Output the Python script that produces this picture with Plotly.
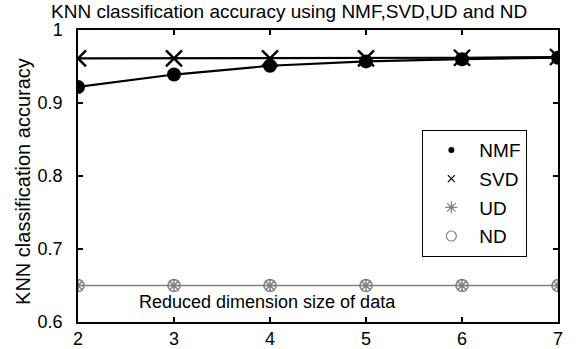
import plotly.graph_objects as go

dims = [2, 3, 4, 5, 6, 7]
nmf = [0.922, 0.939, 0.951, 0.957, 0.960, 0.962]
svd = [0.961, 0.961, 0.961, 0.961, 0.962, 0.963]
ud = [0.650, 0.650, 0.650, 0.650, 0.650, 0.650]
nd = [0.650, 0.650, 0.650, 0.650, 0.650, 0.650]
series_names = ["NMF", "SVD", "UD", "ND"]

FONT = "Liberation Sans"
gray = "#808080"
fig = go.Figure()
# lines
fig.add_trace(go.Scatter(x=dims, y=ud, mode="lines", line=dict(color=gray, width=1.5), showlegend=False, hoverinfo="skip"))
fig.add_trace(go.Scatter(x=dims, y=svd, mode="lines", line=dict(color="black", width=2.2), showlegend=False, hoverinfo="skip"))
fig.add_trace(go.Scatter(x=dims, y=nmf, mode="lines", line=dict(color="black", width=2.2), showlegend=False, hoverinfo="skip"))
# markers on the plot
fig.add_trace(go.Scatter(x=dims, y=nmf, mode="markers", showlegend=False,
                         marker=dict(symbol="circle", size=14, color="black")))
fig.add_trace(go.Scatter(x=dims, y=svd, mode="markers", showlegend=False,
                         marker=dict(symbol="x-thin-open", size=16, color="black", line=dict(color="black", width=2.4))))
fig.add_trace(go.Scatter(x=dims, y=ud, mode="markers", showlegend=False,
                         marker=dict(symbol="asterisk-open", size=11, color=gray, line=dict(color=gray, width=1.5))))
fig.add_trace(go.Scatter(x=dims, y=nd, mode="markers", showlegend=False,
                         marker=dict(symbol="circle-open", size=12, color=gray, line=dict(color=gray, width=1.5))))
# legend entries (smaller symbols, as in the reference legend)
leg_markers = [
    dict(symbol="circle", size=6, color="black"),
    dict(symbol="x-thin-open", size=7, color="black", line=dict(color="black", width=1.2)),
    dict(symbol="asterisk-open", size=10, color=gray, line=dict(color=gray, width=1.2)),
    dict(symbol="circle-open", size=10, color=gray, line=dict(color=gray, width=1.2)),
]
for i, (nm, mk) in enumerate(zip(series_names, leg_markers)):
    fig.add_trace(go.Scatter(x=[None], y=[None], mode="markers", name=nm, legendgroup=str(i), marker=mk))

axis_common = dict(showgrid=False, zeroline=False, showline=True, linecolor="black", linewidth=1.5,
                   mirror="ticks", ticks="inside", ticklen=5, tickcolor="black", tickwidth=1.5,
                   automargin=False,
                   tickfont=dict(family=FONT, size=18, color="black"))
fig.update_xaxes(range=[2, 7], tickvals=dims, **axis_common)
fig.update_yaxes(range=[0.6, 1.0], tickvals=[0.6, 0.7, 0.8, 0.9, 1.0], ticktext=["0.6", "0.7", "0.8", "0.9", "1"],
                 ticklabelstandoff=10, **axis_common)

fig.update_layout(
    width=583, height=349,
    margin=dict(l=78, r=25, t=30, b=27),
    paper_bgcolor="white", plot_bgcolor="white",
    font=dict(family=FONT, size=19, color="black"),
    legend=dict(x=0.717, y=0.658, xanchor="left", yanchor="top", bordercolor="black", borderwidth=1.2,
                bgcolor="white", traceorder="grouped", tracegroupgap=1, itemwidth=46,
                font=dict(family=FONT, size=19, color="black")),
    annotations=[
        dict(text="KNN classification accuracy using NMF,SVD,UD and ND", xref="paper", yref="paper",
             x=0.44, y=1, yshift=19, xanchor="center", yanchor="middle", showarrow=False,
             font=dict(family=FONT, size=19, color="black")),
        dict(text="Reduced dimension size of data", xref="x", yref="y", x=3.97, y=0.627,
             xanchor="center", yanchor="middle", showarrow=False,
             font=dict(family=FONT, size=18, color="black")),
        dict(text="KNN classification accuracy", xref="paper", yref="paper", x=-0.1146, y=0.483,
             xanchor="center", yanchor="middle", textangle=-90, showarrow=False,
             font=dict(family=FONT, size=20, color="black")),
    ],
)

fig.write_html("out.html", config={"displayModeBar": False},
               post_script="document.body.style.margin='0';")
